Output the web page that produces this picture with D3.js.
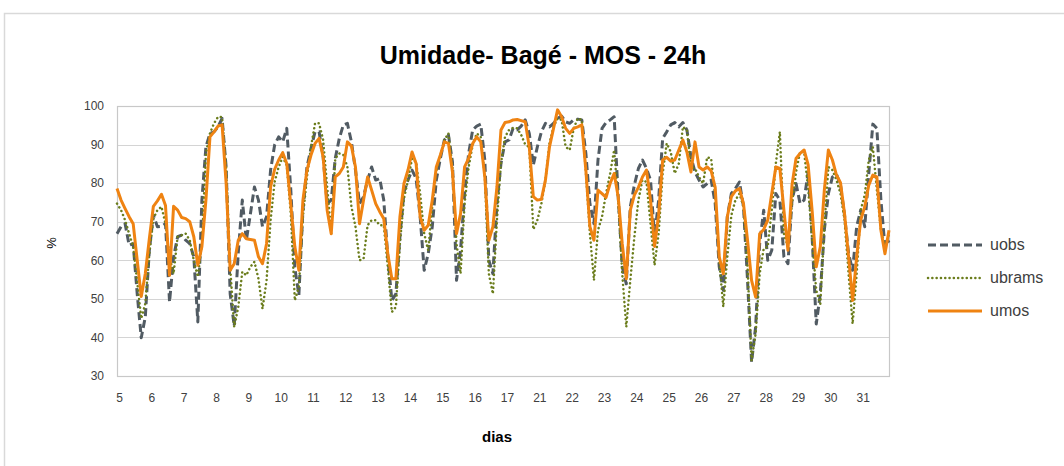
<!DOCTYPE html>
<html>
<head>
<meta charset="utf-8">
<script src="https://cdn.jsdelivr.net/npm/d3@7"></script>
<style>
  body { margin: 0; background: #fff; }
  svg { display: block; }
</style>
</head>
<body>
<div id="chart"></div>
<script>
// day labels (one label every 8 time steps)
var days = ["5","6","7","8","9","10","11","12","13","14","15","16","17","21","22","23","24","25","26","27","28","29","30","31"];
var stepsPerDay = 8;
var yTicks = [30, 40, 50, 60, 70, 80, 90, 100];

var uobs = [
  66.9, 68.7, 69.5, 63.9, 64.3, 51.3, 39.9, 45.3, 62.6, 71.7, 68.7, 68.8, 69.5, 49.2, 60.9, 66.1,
  66.5, 65.2, 64.3, 60.9, 44.0, 75.6, 89.4, 92.9, 93.3, 94.6, 96.8, 84.2, 51.3, 43.0, 62.0, 75.6,
  65.2, 72.0, 79.0, 75.6, 68.7, 71.3, 83.4, 89.9, 92.0, 90.7, 94.2, 78.2, 58.0, 51.0, 73.0, 84.2,
  89.0, 93.3, 93.3, 86.8, 74.7, 75.6, 86.4, 91.6, 95.1, 95.5, 90.7, 83.4, 74.7, 76.5, 80.8, 84.2,
  80.8, 81.2, 75.6, 60.9, 49.6, 51.3, 66.1, 77.7, 80.8, 83.4, 81.2, 71.3, 57.4, 61.7, 68.7, 80.8,
  86.4, 91.2, 92.5, 85.5, 54.8, 62.6, 77.3, 87.7, 93.8, 94.8, 95.3, 86.0, 60.0, 56.5, 74.7, 85.1,
  90.7, 91.2, 94.2, 93.8, 94.8, 96.4, 92.9, 84.7, 89.4, 93.3, 95.5, 94.6, 95.5, 96.8, 97.4, 95.9,
  95.5, 96.4, 96.6, 96.4, 87.7, 74.7, 69.5, 86.0, 94.2, 95.7, 96.4, 97.2, 76.5, 58.3, 53.9, 73.9,
  79.5, 83.8, 86.0, 83.8, 80.8, 66.0, 75.6, 91.6, 93.3, 95.1, 95.7, 94.6, 95.7, 93.8, 86.8, 82.9,
  80.8, 79.0, 79.9, 80.8, 74.7, 58.3, 52.2, 71.3, 77.3, 78.6, 80.3, 73.9, 54.8, 33.6, 42.7, 64.3,
  73.0, 60.0, 62.6, 77.3, 75.6, 60.9, 59.1, 75.6, 79.9, 74.7, 75.6, 82.9, 65.6, 43.5, 51.3, 67.8,
  77.3, 81.6, 82.3, 79.5, 71.7, 61.7, 57.4, 68.7, 73.0, 68.7, 82.5, 95.3, 94.2, 75.6, 63.5, 65.2
];

var ubrams = [
  74.7, 73.0, 70.4, 66.9, 63.5, 54.4, 44.9, 48.7, 61.7, 70.8, 73.0, 73.9, 69.5, 60.9, 56.5, 66.1,
  66.5, 66.9, 65.2, 60.0, 55.7, 64.3, 87.7, 92.9, 95.5, 97.2, 97.1, 84.2, 58.3, 42.7, 47.9, 57.0,
  56.1, 58.3, 59.6, 55.2, 47.4, 54.8, 70.4, 80.3, 84.2, 86.8, 84.6, 72.1, 49.6, 53.1, 71.3, 81.6,
  89.4, 95.5, 95.5, 91.2, 79.0, 66.9, 86.4, 87.7, 87.3, 84.2, 73.9, 68.7, 60.0, 60.4, 69.1, 70.4,
  70.4, 69.1, 69.1, 58.3, 46.6, 47.9, 64.3, 76.0, 80.8, 86.4, 85.5, 77.3, 66.9, 62.6, 73.9, 83.1,
  87.0, 91.2, 92.9, 84.2, 64.3, 56.5, 74.7, 84.2, 89.9, 92.9, 92.0, 81.6, 56.5, 51.3, 70.4, 85.1,
  92.0, 93.8, 94.3, 94.2, 92.5, 90.0, 89.4, 68.0, 70.4, 74.7, 80.8, 90.3, 94.6, 96.8, 96.4, 89.4,
  88.6, 94.2, 96.8, 96.4, 82.9, 66.9, 54.8, 67.8, 71.3, 77.3, 82.5, 88.6, 75.6, 56.5, 42.7, 54.8,
  66.0, 75.6, 80.8, 80.3, 69.5, 58.7, 66.9, 82.5, 90.3, 88.1, 82.5, 85.1, 94.6, 93.8, 84.2, 83.8,
  81.6, 79.9, 86.7, 86.4, 76.5, 60.0, 47.9, 60.9, 71.7, 75.6, 77.3, 73.9, 58.3, 34.0, 40.9, 56.5,
  63.0, 63.5, 73.0, 85.1, 93.3, 66.9, 63.5, 74.7, 82.9, 88.1, 88.1, 78.6, 65.2, 52.2, 48.7, 68.7,
  84.2, 83.4, 80.8, 77.3, 70.4, 56.5, 43.5, 56.5, 73.0, 76.9, 86.0, 89.4, 78.2, 67.8, 63.5, 66.9
];

var umos = [
  78.6, 75.6, 73.4, 71.3, 69.5, 60.0, 50.6, 56.5, 65.6, 74.0, 75.4, 77.1, 74.2, 56.1, 74.0, 73.0,
  71.1, 70.8, 70.0, 66.1, 58.7, 63.5, 75.6, 92.0, 93.3, 94.8, 95.1, 80.0, 57.4, 59.1, 65.2, 66.9,
  65.6, 65.4, 65.2, 60.9, 59.1, 64.3, 79.0, 83.6, 86.0, 87.9, 85.1, 74.3, 63.5, 57.4, 75.6, 83.4,
  87.3, 90.3, 91.6, 86.8, 73.0, 66.9, 81.6, 82.5, 84.2, 90.7, 89.6, 84.2, 69.5, 75.6, 81.6, 78.2,
  74.7, 72.6, 70.8, 61.7, 55.2, 55.2, 71.3, 79.9, 83.4, 88.1, 85.1, 71.3, 67.8, 69.1, 75.6, 84.2,
  87.3, 90.7, 90.3, 82.9, 66.9, 72.1, 84.2, 86.4, 90.3, 92.0, 90.7, 81.6, 65.2, 68.7, 79.0, 93.8,
  95.7, 95.9, 96.4, 96.5, 96.2, 95.9, 89.4, 76.5, 75.6, 75.8, 80.8, 89.4, 94.2, 99.0, 97.2, 94.2,
  92.9, 94.2, 94.6, 95.1, 83.4, 68.7, 65.2, 78.2, 77.3, 76.3, 79.9, 82.5, 76.5, 64.3, 55.2, 73.0,
  76.9, 78.9, 81.6, 83.4, 75.6, 63.6, 71.7, 86.0, 86.7, 85.7, 86.0, 88.6, 91.2, 88.1, 82.9, 90.7,
  84.2, 83.4, 84.2, 83.2, 78.9, 60.9, 56.5, 71.3, 76.5, 78.0, 78.6, 74.7, 65.2, 54.8, 50.5, 66.9,
  68.0, 70.4, 77.3, 84.2, 83.8, 73.0, 62.6, 79.5, 86.4, 87.7, 88.6, 84.7, 72.6, 58.3, 63.5, 78.2,
  88.6, 86.0, 82.1, 80.1, 72.1, 60.9, 49.6, 60.9, 70.4, 73.9, 79.5, 82.1, 81.6, 67.8, 61.7, 67.8
];

var series = [
  { name: "uobs",   values: uobs,   color: "#515b63", width: 3,   dash: "8,4" },
  { name: "ubrams", values: ubrams, color: "#6b7d1c", width: 2.5, dash: "0.1,4.2" },
  { name: "umos",   values: umos,   color: "#ef8312", width: 3,   dash: null }
];

var W = 1064, H = 466;
var plot = { left: 117, right: 889, top: 106, bottom: 376 };

var svg = d3.select("#chart").append("svg")
  .attr("width", W)
  .attr("height", H);

// outer chart frame
svg.append("rect")
  .attr("x", 4.5).attr("y", 13.5)
  .attr("width", W + 10).attr("height", H + 10)
  .attr("fill", "#fff")
  .attr("stroke", "#d9d9d9")
  .attr("stroke-width", 1.5);

var x = d3.scalePoint()
  .domain(d3.range(umos.length))
  .range([plot.left, plot.right]);

var y = d3.scaleLinear()
  .domain([30, 100])
  .range([plot.bottom, plot.top]);

// gridlines
svg.append("g")
  .selectAll("line")
  .data(yTicks)
  .enter()
  .append("line")
  .attr("x1", plot.left).attr("x2", plot.right)
  .attr("y1", function(d) { return Math.round(y(d)) + 0.5; })
  .attr("y2", function(d) { return Math.round(y(d)) + 0.5; })
  .attr("stroke", "#d4d4d4")
  .attr("stroke-width", 1.2);

// plot border
svg.append("rect")
  .attr("x", plot.left + 0.5).attr("y", plot.top + 0.5)
  .attr("width", plot.right - plot.left).attr("height", plot.bottom - plot.top)
  .attr("fill", "none")
  .attr("stroke", "#c8c8c8")
  .attr("stroke-width", 1.2);

// y axis
var yAxis = svg.append("g")
  .attr("transform", "translate(" + (plot.left - 6) + ",0)")
  .call(d3.axisLeft(y).tickValues(yTicks).tickSize(0).tickPadding(7));
yAxis.select(".domain").remove();
yAxis.selectAll("text")
  .style("font-family", "Liberation Sans, Arial, sans-serif")
  .style("font-size", "12px")
  .style("fill", "#404040");

// x axis
var xAxis = svg.append("g")
  .attr("transform", "translate(2," + (plot.bottom + 14) + ")")
  .call(d3.axisBottom(x)
    .tickValues(d3.range(0, umos.length, stepsPerDay))
    .tickFormat(function(i) { return days[i / stepsPerDay]; })
    .tickSize(0));
xAxis.select(".domain").remove();
xAxis.selectAll("text")
  .style("font-family", "Liberation Sans, Arial, sans-serif")
  .style("font-size", "12px")
  .style("fill", "#404040");

// lines
var line = d3.line()
  .x(function(d, i) { return x(i); })
  .y(function(d) { return y(d); });

series.forEach(function(s) {
  svg.append("path")
    .datum(s.values)
    .attr("d", line)
    .attr("fill", "none")
    .attr("stroke", s.color)
    .attr("stroke-width", s.width)
    .attr("stroke-linejoin", "round")
    .attr("stroke-linecap", s.dash && s.dash.indexOf("0.1") === 0 ? "round" : "butt")
    .attr("stroke-dasharray", s.dash);
});

// title
svg.append("text")
  .attr("x", 543).attr("y", 64)
  .attr("text-anchor", "middle")
  .text("Umidade- Bagé - MOS - 24h")
  .style("font-family", "Liberation Sans, Arial, sans-serif")
  .style("font-weight", "bold")
  .style("font-size", "25px")
  .style("fill", "#000");

// axis titles
svg.append("text")
  .attr("transform", "translate(56,243) rotate(-90)")
  .attr("text-anchor", "middle")
  .text("%")
  .style("font-family", "Liberation Sans, Arial, sans-serif")
  .style("font-size", "13px")
  .style("fill", "#000");

svg.append("text")
  .attr("x", 497).attr("y", 442)
  .attr("text-anchor", "middle")
  .text("dias")
  .style("font-family", "Liberation Sans, Arial, sans-serif")
  .style("font-weight", "bold")
  .style("font-size", "15px")
  .style("fill", "#000");

// legend
var legend = svg.selectAll(".legend")
  .data(series)
  .enter()
  .append("g")
  .attr("class", "legend")
  .attr("transform", function(d, i) { return "translate(928," + (245 + i * 33) + ")"; });

legend.append("line")
  .attr("x1", 0).attr("x2", 54)
  .attr("stroke", function(d) { return d.color; })
  .attr("stroke-width", function(d) { return d.width; })
  .attr("stroke-linecap", function(d) { return d.dash && d.dash.indexOf("0.1") === 0 ? "round" : "butt"; })
  .attr("stroke-dasharray", function(d) { return d.dash; });

legend.append("text")
  .attr("x", 62).attr("y", 5)
  .text(function(d) { return d.name; })
  .style("font-family", "Liberation Sans, Arial, sans-serif")
  .style("font-size", "16px")
  .style("fill", "#404040");
</script>
</body>
</html>
